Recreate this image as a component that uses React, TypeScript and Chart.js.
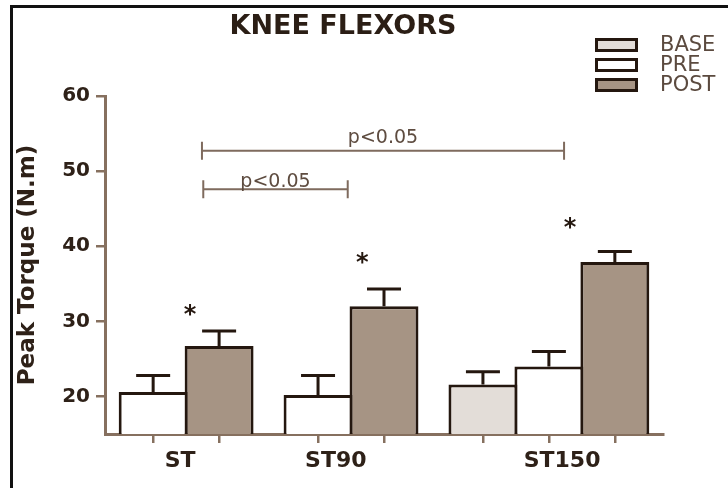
import React, { useEffect, useRef } from 'react';
import { Chart, registerables } from 'chart.js';
Chart.register(...registerables);

// ---- data ----
const groups = ['ST', 'ST90', 'ST150'];
const seriesNames = ['BASE', 'PRE', 'POST'];
const baseMean = [null, null, 21.6];
const preMean = [20.6, 20.2, 24.0];
const postMean = [26.7, 32.0, 37.9];
const baseErr = [null, null, 1.7];
const preErr = [2.2, 2.6, 2.0];
const postErr = [2.0, 2.3, 1.4];
const yTicks = [20, 30, 40, 50, 60];
const chartTitle = 'KNEE FLEXORS';
const yTitle = 'Peak Torque (N.m)';
const sigLabel = 'p<0.05';
const bracketFrom = [0.74, 0.76];
const bracketTo = [6.23, 2.95];
const bracketY = [52.7, 47.6];
const starX = [0.56, 3.17, 6.32];
const starY = [31.5, 38.4, 43.1];

// ---- layout / style ----
const Y_MIN = 15;
const Y_MAX = 60;
const X_MIN = -0.73;
const X_MAX = 7.73;
const groupStart = [0, 2.5, 5];
const labelPos = [0.41, 2.77, 6.2];
const bracketLabelGap = [8, 2];
const fills = ['#e3ddd8', '#ffffff', '#a69484'];
const DARK = '#24170f';
const AXIS = '#86705f';
const TEXT = '#2e2118';
const FONT = '"DejaVu Sans", "Liberation Sans", Arial, sans-serif';

const means = [baseMean, preMean, postMean];
const errs = [baseErr, preErr, postErr];

function buildDatasets() {
  return seriesNames.map((name, s) => {
    const data: any[] = [];
    const e: number[] = [];
    groups.forEach((g, gi) => {
      const v = means[s][gi];
      if (v == null) return;
      let slot = groupStart[gi];
      for (let k = 0; k < s; k++) if (means[k][gi] != null) slot += 1;
      data.push({ x: slot, y: v });
      e.push(errs[s][gi] as number);
    });
    return {
      label: name,
      data,
      errors: e,
      backgroundColor: fills[s],
      borderColor: DARK,
      borderWidth: 3,
      grouped: false,
      barPercentage: 1.045,
      categoryPercentage: 1,
    } as any;
  });
}

const decorPlugin = {
  id: 'decor',
  afterDatasetsDraw(chart: any) {
    const ctx = chart.ctx;
    const xs = chart.scales.x;
    const ys = chart.scales.y;
    ctx.save();
    // error bars
    chart.data.datasets.forEach((ds: any, di: number) => {
      const meta = chart.getDatasetMeta(di);
      meta.data.forEach((bar: any, i: number) => {
        const top = ys.getPixelForValue(ds.data[i].y + ds.errors[i]);
        ctx.strokeStyle = DARK;
        ctx.lineWidth = 3;
        ctx.beginPath();
        ctx.moveTo(bar.x, bar.y);
        ctx.lineTo(bar.x, top);
        ctx.moveTo(bar.x - 17, top);
        ctx.lineTo(bar.x + 17, top);
        ctx.stroke();
      });
    });
    // brackets
    bracketFrom.forEach((f, i) => {
      const x1 = xs.getPixelForValue(f);
      const x2 = xs.getPixelForValue(bracketTo[i]);
      const y = ys.getPixelForValue(bracketY[i]);
      ctx.strokeStyle = '#7f6b5e';
      ctx.lineWidth = 2;
      ctx.beginPath();
      ctx.moveTo(x1, y);
      ctx.lineTo(x2, y);
      ctx.moveTo(x1, y - 9);
      ctx.lineTo(x1, y + 9);
      ctx.moveTo(x2, y - 9);
      ctx.lineTo(x2, y + 9);
      ctx.stroke();
      ctx.fillStyle = '#5e4c40';
      ctx.font = '19px ' + FONT;
      ctx.textAlign = 'center';
      ctx.textBaseline = 'alphabetic';
      ctx.fillText(sigLabel, (x1 + x2) / 2, y - bracketLabelGap[i]);
    });
    // asterisks
    ctx.font = 'bold 24px ' + FONT;
    ctx.fillStyle = DARK;
    ctx.textAlign = 'center';
    ctx.textBaseline = 'alphabetic';
    const m = ctx.measureText('*');
    starX.forEach((sx, i) => {
      const cx = xs.getPixelForValue(sx);
      const cy = ys.getPixelForValue(starY[i]);
      ctx.fillText('*', cx, cy + (m.actualBoundingBoxAscent - m.actualBoundingBoxDescent) / 2);
    });
    ctx.restore();
  },
  afterDraw(chart: any) {
    const ctx = chart.ctx;
    ctx.save();
    // title
    ctx.font = 'bold 27px ' + FONT;
    ctx.fillStyle = '#2b1e15';
    ctx.textAlign = 'center';
    ctx.textBaseline = 'alphabetic';
    ctx.fillText(chartTitle, 343, 34);
    // legend
    chart.data.datasets.forEach((ds: any, i: number) => {
      const top = 38 + i * 20;
      ctx.fillStyle = ds.backgroundColor;
      ctx.fillRect(595, top, 43, 14);
      ctx.strokeStyle = DARK;
      ctx.lineWidth = 3;
      ctx.strokeRect(596.5, top + 1.5, 40, 11);
      ctx.fillStyle = '#5b4a3f';
      ctx.font = '21px ' + FONT;
      ctx.textAlign = 'left';
      ctx.textBaseline = 'middle';
      ctx.fillText(ds.label, 660, top + 8);
    });
    ctx.restore();
  },
};

export default function App() {
  const ref = useRef<HTMLCanvasElement>(null);
  useEffect(() => {
    if (!ref.current) return;
    const barPositions: number[] = [];
    const datasets = buildDatasets();
    datasets.forEach((d: any) => d.data.forEach((p: any) => barPositions.push(p.x)));
    barPositions.sort((a, b) => a - b);
    const chart = new Chart(ref.current, {
      type: 'bar',
      data: { datasets },
      options: {
        animation: false,
        responsive: false,
        devicePixelRatio: 1,
        layout: { padding: { left: 0, top: 96, right: 65, bottom: 0 } },
        plugins: { legend: { display: false }, tooltip: { enabled: false }, title: { display: false } },
        scales: {
          x: {
            type: 'linear',
            position: 'bottom',
            weight: 0,
            offset: false,
            bounds: 'data',
            min: X_MIN,
            max: X_MAX,
            afterBuildTicks: (s: any) => { s.ticks = barPositions.map((v) => ({ value: v })); },
            afterFit: (s: any) => { s.height = 9; },
            ticks: { display: false },
            grid: { offset: false, drawOnChartArea: false, drawTicks: true, tickLength: 9, color: AXIS, lineWidth: 2.5 },
            border: { display: true, color: AXIS, width: 3 },
          },
          xl: {
            type: 'linear',
            position: 'bottom',
            weight: 1,
            offset: false,
            bounds: 'data',
            min: X_MIN,
            max: X_MAX,
            afterBuildTicks: (s: any) => { s.ticks = labelPos.map((v) => ({ value: v })); },
            afterFit: (s: any) => { s.height = 45; },
            ticks: {
              autoSkip: false,
              maxRotation: 0,
              padding: 5,
              color: TEXT,
              font: { family: FONT, size: 22, weight: 'bold' },
              callback: (_v: any, i: number) => groups[i],
            },
            grid: { display: false, drawTicks: false, offset: false },
            border: { display: false },
          },
          y: {
            type: 'linear',
            min: Y_MIN,
            max: Y_MAX,
            afterBuildTicks: (s: any) => { s.ticks = yTicks.map((v) => ({ value: v })); },
            afterFit: (s: any) => { s.width = 105; },
            ticks: { padding: 6, color: TEXT, font: { family: FONT, size: 20, weight: 'bold' } },
            grid: { drawOnChartArea: false, drawTicks: true, tickLength: 9, color: AXIS, lineWidth: 2.5 },
            border: { display: true, color: AXIS, width: 3 },
            title: {
              display: true,
              text: yTitle,
              color: TEXT,
              padding: { top: 14, bottom: 0 },
              font: { family: FONT, size: 23, weight: 'bold' },
            },
          },
        },
      } as any,
      plugins: [decorPlugin],
    });
    return () => chart.destroy();
  }, []);
  return (
    <div style={{ position: 'absolute', left: 0, top: 0, width: 728, height: 488, background: '#fff', overflow: 'hidden' }}>
      <canvas ref={ref} width={728} height={488} style={{ display: 'block' }} />
      <div style={{ position: 'absolute', left: 10, top: 5, width: 740, height: 500, borderTop: '3px solid #111', borderLeft: '3px solid #111', pointerEvents: 'none' }} />
    </div>
  );
}
